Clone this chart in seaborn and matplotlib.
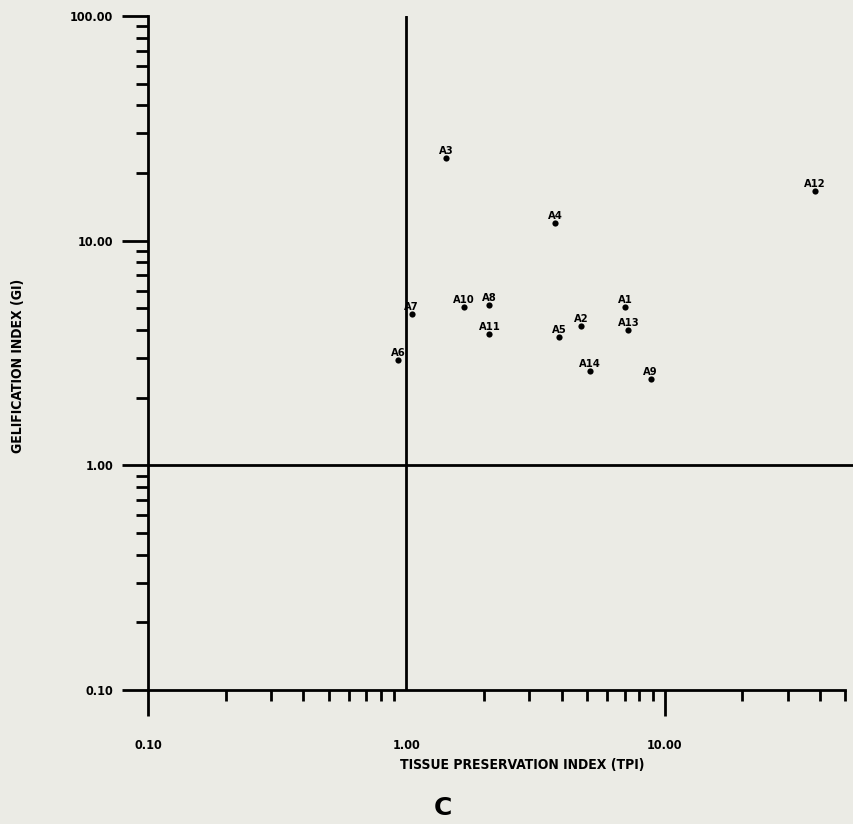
import numpy as np
import pandas as pd
import seaborn as sns
import matplotlib.pyplot as plt
from matplotlib.ticker import FixedLocator, NullFormatter, FormatStrFormatter

# Sample data read from the TPI / GI diagram
samples = ['A1', 'A2', 'A3', 'A4', 'A5', 'A6', 'A7',
           'A8', 'A9', 'A10', 'A11', 'A12', 'A13', 'A14']
tpi = [7.05, 4.75, 1.43, 3.77, 3.90, 0.93, 1.05,
       2.10, 8.83, 1.67, 2.10, 38.3, 7.24, 5.15]
gi = [5.07, 4.17, 23.3, 12.0, 3.73, 2.94, 4.72,
      5.17, 2.42, 5.07, 3.85, 16.6, 4.00, 2.63]

x_major = [0.1, 1.0, 10.0]
y_major = [0.1, 1.0, 10.0, 100.0]

df = pd.DataFrame({'sample': samples, 'TPI': tpi, 'GI': gi})

sns.set_style('ticks')
plt.rcParams['font.family'] = ['DejaVu Sans']
plt.rcParams['text.color'] = 'black'
plt.rcParams['xtick.color'] = 'black'
plt.rcParams['ytick.color'] = 'black'
plt.rcParams['axes.edgecolor'] = 'black'
bg = '#ebebe5'

fig = plt.figure(figsize=(8.54, 8.24), dpi=100, facecolor=bg)
ax = fig.add_axes([0.1733, 0.1626, 0.8162, 0.818])
ax.set_facecolor(bg)

sns.scatterplot(data=df, x='TPI', y='GI', ax=ax, color='black', s=20,
                edgecolor='black', linewidth=0, legend=False, zorder=3)
for _, r in df.iterrows():
    ax.annotate(r['sample'], (r['TPI'], r['GI']), xytext=(0, 1.5),
                textcoords='offset points', ha='center', va='bottom',
                fontsize=8, fontweight='bold', fontstretch='condensed', color='black')

ax.set_xscale('log')
ax.set_yscale('log')
ax.set_xlim(0.1, 50)
ax.set_ylim(0.1, 100)

# reference lines at 1.0
ax.axvline(1.0, color='black', lw=2.0, zorder=2)
ax.axhline(1.0, xmin=0, xmax=1.013, color='black', lw=2.0, clip_on=False, zorder=2)

for s in ['top', 'right']:
    ax.spines[s].set_visible(False)
for s in ['left', 'bottom']:
    ax.spines[s].set_linewidth(2.0)
    ax.spines[s].set_color('black')

ax.xaxis.set_major_locator(FixedLocator(x_major))
ax.yaxis.set_major_locator(FixedLocator(y_major))
ax.xaxis.set_major_formatter(FormatStrFormatter('%.2f'))
ax.yaxis.set_major_formatter(FormatStrFormatter('%.2f'))
ax.xaxis.set_minor_locator(FixedLocator([m * d for d in [0.1, 1, 10] for m in range(2, 10) if m * d <= 50]))
ax.yaxis.set_minor_locator(FixedLocator([m * d for d in [0.1, 1, 10] for m in range(2, 10)]))
ax.xaxis.set_minor_formatter(NullFormatter())
ax.yaxis.set_minor_formatter(NullFormatter())

ax.tick_params(axis='x', which='major', length=19, width=2, pad=16, direction='out')
ax.tick_params(axis='x', which='minor', length=8, width=2, direction='out')
ax.tick_params(axis='y', which='major', length=19, width=2, pad=6, direction='out')
ax.tick_params(axis='y', which='minor', length=9, width=2, direction='out')
ax.xaxis.get_major_ticks()[1].tick1line.set_visible(False)
for lab in ax.get_xticklabels() + ax.get_yticklabels():
    lab.set_fontweight('bold')
    lab.set_fontsize(9)
    lab.set_fontstretch('condensed')

ax.set_xlabel('')
ax.set_ylabel('')
fig.text(0.612, 0.0716, 'TISSUE PRESERVATION INDEX (TPI)', ha='center', va='center',
         fontsize=10, fontweight='bold', fontstretch='condensed')
fig.text(0.021, 0.556, 'GELIFICATION INDEX (GI)', ha='center', va='center', rotation=90,
         fontsize=10, fontweight='bold', fontstretch='condensed')
fig.text(0.519, 0.02, 'C', ha='center', va='center', fontsize=18, fontweight='bold')

fig.savefig('out.png', dpi=100, facecolor=bg)
